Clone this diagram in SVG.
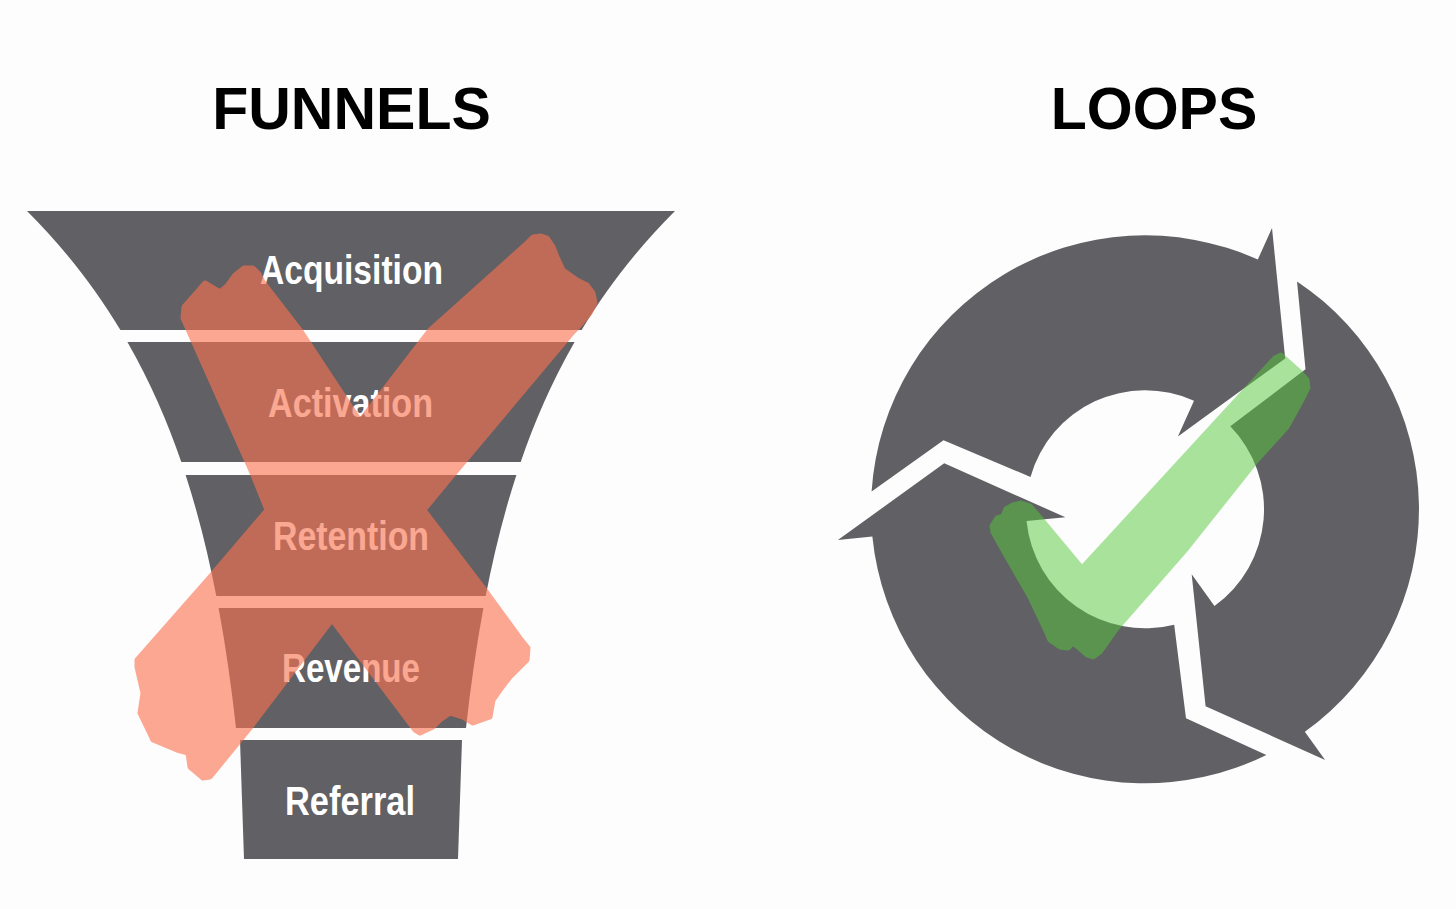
<svg xmlns="http://www.w3.org/2000/svg" xmlns:xlink="http://www.w3.org/1999/xlink" width="1456" height="909" viewBox="0 0 1456 909">
  <style>
    .title { font-family: "Liberation Sans", Arial, sans-serif; font-weight: bold; font-size: 59px; fill: #000000; text-anchor: middle; }
    .band { fill: #616064; }
    .label { font-family: "Liberation Sans", Arial, sans-serif; font-weight: bold; font-size: 40px; fill: #ffffff; text-anchor: middle; }
    .ring { fill: #616064; }
    .xmark { fill: #fa7352; stroke: #fa7352; stroke-width: 5; stroke-linejoin: round; }
    .check { fill: #55c83c; stroke: #55c83c; stroke-width: 5; stroke-linejoin: round; }
  </style>
  <defs>
    <path id="segA" d="M 871.6,491.6 A 274 274 0 0 1 1257.8,259.6 L 1272.0,228.0 L 1285.2,358.4 L 1177.9,436.4 L 1194.0,400.8 A 119 119 0 0 0 1030.5,476.9 L 943.5,440.3 Z"/>
  </defs>
  <rect x="0" y="0" width="1456" height="909" fill="#fdfdfd"/>

  <g id="title-funnels"><text class="title" x="351.5" y="129">FUNNELS</text></g>
  <g id="title-loops"><text class="title" x="1154" y="129">LOOPS</text></g>

  <g id="funnel">
    <g id="acquisition">
      <path class="band" d="M27,211 C66.7,250.7 96.5,290.3 120.4,330 L581.6,330 C605.5,290.3 635.3,250.7 675,211 Z"/>
      <text class="label" x="351.5" y="284" textLength="183" lengthAdjust="spacingAndGlyphs">Acquisition</text>
    </g>
    <g id="activation">
      <path class="band" d="M127.4,342 C150.3,382 167.6,422 181.3,462 L520.7,462 C534.4,422 551.7,382 574.6,342 Z"/>
      <text class="label" x="350.5" y="417" textLength="165" lengthAdjust="spacingAndGlyphs">Activation</text>
    </g>
    <g id="retention">
      <path class="band" d="M185.6,475 C198.7,515.3 208.5,555.7 216.3,596 L485.7,596 C493.5,555.7 503.3,515.3 516.4,475 Z"/>
      <text class="label" x="351" y="550" textLength="156" lengthAdjust="spacingAndGlyphs">Retention</text>
    </g>
    <g id="revenue">
      <path class="band" d="M218.6,608 C226,648 231.6,688 236,728 L466,728 C470.4,688 476,648 483.4,608 Z"/>
      <text class="label" x="351" y="682" textLength="138" lengthAdjust="spacingAndGlyphs">Revenue</text>
    </g>
    <g id="referral">
      <path class="band" d="M240,740 L244,859 L458,859 L462,740 Z"/>
      <text class="label" x="350" y="815" textLength="130" lengthAdjust="spacingAndGlyphs">Referral</text>
    </g>
  </g>

  <g id="cross-mark" opacity="0.62">
    <path class="xmark" d="M183,318 L184,307 L205,283 L220,292 L227,286 L235,275 L244,268 L253,268 L259,274 L263,282 L300,330 L360,421 L430,330 L527,243 L533,237 L541,236 L547,238 L553,247 L557,257 L563,270 L577,280 L587,285 L593,293 L595,303 L590,313 L578,327 L573,332 L453,475 L424,510 L485,590 L520,638 L528,648 L527,660 L510,677 L500,690 L493,700 L490,717 L473,723 L463,717 L450,713 L440,720 L433,727 L420,733 L415,730 L332,620 L250,728 L210,777 L203,778 L190,767 L188,753 L177,750 L153,740 L140,713 L143,693 L137,667 L137,660 L210,577 L267,510 L253,475 Z"/>
  </g>

  <g id="loop">
    <use xlink:href="#segA" href="#segA" class="ring"/>
    <use xlink:href="#segA" href="#segA" class="ring" transform="rotate(120 1145 509.3)"/>
    <use xlink:href="#segA" href="#segA" class="ring" transform="rotate(240 1145 509.3)"/>
  </g>

  <g id="check-mark" opacity="0.5">
    <path class="check" d="M992,526 L997,518 L1003,516 L1006,509 L1013,505 L1021,503 L1030,506 L1036,513 L1082,568 L1275,358 L1281,355 L1300,372 L1307,380 L1308,388 L1304,396 L1298,407 L1287,427 L1257,460 L1187,548 L1117,628 L1100,652 L1093,657 L1087,655 L1078,647 L1073,643 L1068,648 L1060,647 L1050,640 L1047,633 L1030,597 L1003,550 L993,532 Z"/>
  </g>
</svg>
